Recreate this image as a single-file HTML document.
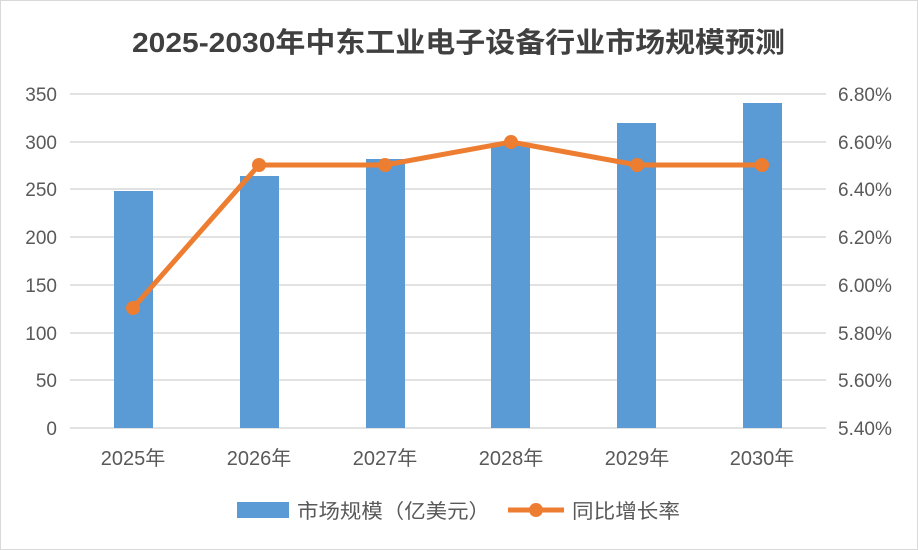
<!DOCTYPE html>
<html><head><meta charset="utf-8"><style>
html,body{margin:0;padding:0;background:#fff;}
svg{display:block;font-family:"Liberation Sans","Noto Sans CJK SC",sans-serif;}
</style></head><body>
<svg width="918" height="550" viewBox="0 0 918 550" xmlns="http://www.w3.org/2000/svg">
<rect x="0.5" y="0.5" width="917" height="549" fill="#fff" stroke="#d9d9d9"/>
<text x="132" y="52" font-size="28" font-weight="bold" fill="#404040" textLength="653" lengthAdjust="spacingAndGlyphs">2025-2030年中东工业电子设备行业市场规模预测</text>
<g stroke="#d9d9d9" stroke-width="1.5">
<line x1="70" x2="826" y1="94" y2="94"/><line x1="70" x2="826" y1="142" y2="142"/>
<line x1="70" x2="826" y1="189" y2="189"/><line x1="70" x2="826" y1="237" y2="237"/>
<line x1="70" x2="826" y1="285" y2="285"/><line x1="70" x2="826" y1="333" y2="333"/>
<line x1="70" x2="826" y1="380" y2="380"/><line x1="70" x2="826" y1="428" y2="428"/>
</g>
<g font-size="19" fill="#595959" text-anchor="end">
<text x="57" y="101">350</text><text x="57" y="149">300</text><text x="57" y="196">250</text>
<text x="57" y="244">200</text><text x="57" y="292">150</text><text x="57" y="340">100</text>
<text x="57" y="387">50</text><text x="57" y="435">0</text>
</g>
<g font-size="19" fill="#595959" text-anchor="start">
<text x="838" y="101">6.80%</text><text x="838" y="149">6.60%</text><text x="838" y="196">6.40%</text>
<text x="838" y="244">6.20%</text><text x="838" y="292">6.00%</text><text x="838" y="340">5.80%</text>
<text x="838" y="387">5.60%</text><text x="838" y="435">5.40%</text>
</g>
<g fill="#5b9bd5">
<rect x="114" y="191" width="39" height="237"/>
<rect x="240" y="176" width="39" height="252"/>
<rect x="366" y="159" width="39" height="269"/>
<rect x="491" y="143" width="39" height="285"/>
<rect x="617" y="123" width="39" height="305"/>
<rect x="743" y="103" width="39" height="325"/>
</g>
<polyline points="133,308 259,165 385,165 511,142 637,165 762,165" fill="none" stroke="#ed7d31" stroke-width="5" stroke-linejoin="round"/>
<g fill="#ed7d31">
<circle cx="133" cy="308" r="7"/><circle cx="259" cy="165" r="7"/><circle cx="385" cy="165" r="7"/>
<circle cx="511" cy="142" r="7"/><circle cx="637" cy="165" r="7"/><circle cx="762" cy="165" r="7"/>
</g>
<g font-size="20" fill="#595959" text-anchor="middle">
<text x="133" y="465">2025年</text><text x="259" y="465">2026年</text><text x="385" y="465">2027年</text>
<text x="511" y="465">2028年</text><text x="637" y="465">2029年</text><text x="762" y="465">2030年</text>
</g>
<rect x="237" y="502" width="52" height="16" fill="#5b9bd5"/>
<text x="297" y="518" font-size="20" fill="#595959" textLength="193" lengthAdjust="spacingAndGlyphs">市场规模（亿美元）</text>
<line x1="508" x2="564" y1="510" y2="510" stroke="#ed7d31" stroke-width="5"/>
<circle cx="536" cy="510" r="7" fill="#ed7d31"/>
<text x="572" y="518" font-size="20" fill="#595959" textLength="108" lengthAdjust="spacingAndGlyphs">同比增长率</text>
</svg>
</body></html>
